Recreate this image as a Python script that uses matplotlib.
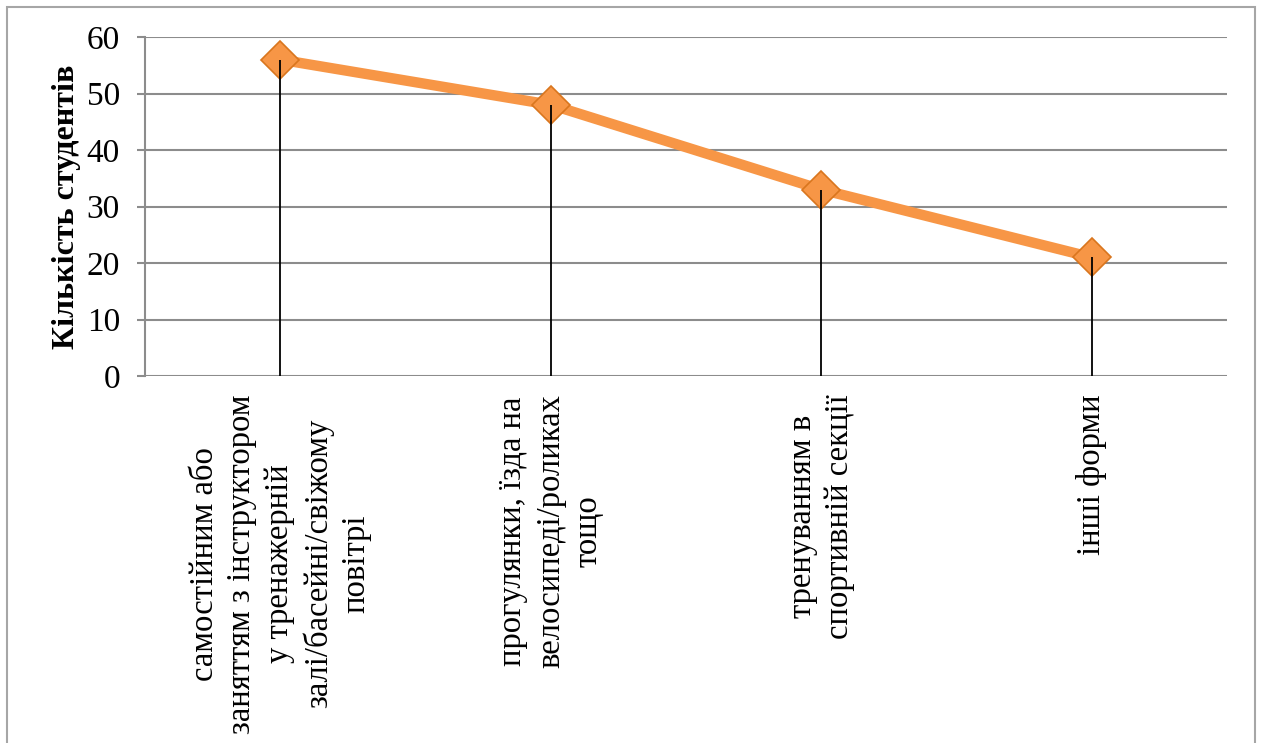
import matplotlib.pyplot as plt
from matplotlib.patches import Rectangle

# data
categories = [
    'самостійним або\nзаняттям з інструктором\nу тренажерній\nзалі/басейні/свіжому\nповітрі',
    'прогулянки, їзда на\nвелосипеді/роликах\nтощо',
    'тренуванням в\nспортивній секції',
    'інші форми',
]
students = [56, 48, 33, 21]
yticks = [0, 10, 20, 30, 40, 50, 60]

plt.rcParams['font.family'] = ['Liberation Serif', 'DejaVu Serif']

fig = plt.figure(figsize=(12.61, 7.43), dpi=100)
ax = fig.add_axes([145 / 1261, 1 - 376 / 743, (1227 - 145) / 1261, (376 - 37) / 743])

# outer chart border
fig.patches.append(Rectangle((7 / 1261, -0.1), (1255 - 7) / 1261, 1.1 - 7 / 743,
                             transform=fig.transFigure, fill=False,
                             edgecolor='#A6A6A6', lw=1.5))

x = list(range(len(students)))
ax.plot(x, students, color='#F79646', lw=7.5, solid_capstyle='butt', zorder=3)
ax.plot(x, students, ls='none', marker='D', markersize=19,
        markerfacecolor='#F79646', markeredgecolor='#D9761E', markeredgewidth=1.2,
        zorder=4)
ax.vlines(x, 0, students, color='black', lw=1.3, zorder=5)

ax.set_xlim(-0.5, len(students) - 0.5)
ax.set_ylim(0, 60)
ax.set_yticks(yticks)
ax.yaxis.grid(True, color='#8C8C8C', lw=1.5)
ax.set_axisbelow(True)

for side in ['top', 'right', 'bottom']:
    ax.spines[side].set_visible(False)
ax.spines['left'].set_color('#8C8C8C')
ax.spines['left'].set_linewidth(1.5)
ax.tick_params(axis='y', length=6, width=1.5, color='#8C8C8C', pad=12, labelsize=24)
ax.tick_params(axis='x', length=0, pad=13)

ax.set_xticks(x)
ax.set_xticklabels(categories, rotation=90, fontsize=23.5, va='top', ha='center',
                   multialignment='center', linespacing=1.3)

ax.set_ylabel('Кількість студентів', fontsize=23, fontweight='bold', labelpad=4)

fig.savefig('out.png', dpi=100)
